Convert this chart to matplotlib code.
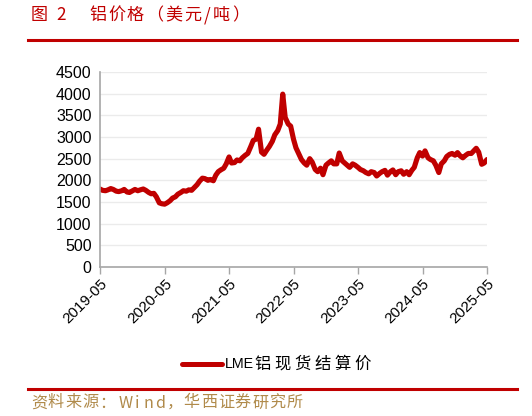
import matplotlib
matplotlib.use("Agg")
import matplotlib.pyplot as plt
import pandas as pd

plt.rcParams['font.family'] = ['Liberation Sans', 'Noto Sans CJK SC', 'DejaVu Sans']

title_parts = ["图", "2", "铝价格（美元/吨）"]
source_parts = ["资料来源：", "Wind", "，华西证券研究所"]
legend_parts = ["LME", "铝现货结算价"]
tick_labels = ["2019-05", "2020-05", "2021-05", "2022-05", "2023-05", "2024-05", "2025-05"]
y_ticks = [0, 500, 1000, 1500, 2000, 2500, 3000, 3500, 4000, 4500]

# semi-monthly values (1st, 15th) from 2019-05 to 2025-05-01
values = [
    1800, 1770, 1760, 1780, 1810, 1790, 1750, 1740, 1760, 1790, 1730, 1720,
    1760, 1790, 1760, 1780,
    1800, 1770, 1720, 1690, 1700, 1620, 1480, 1460, 1450, 1480, 1530, 1590,
    1620, 1680, 1720, 1760, 1750, 1780, 1770, 1830, 1900, 1980, 2050, 2040,
    2000, 2020, 1990, 2120, 2200, 2240, 2280, 2380, 2540, 2400, 2410, 2470,
    2450, 2520, 2580, 2620, 2780, 2920, 2950, 3180, 2650, 2600, 2700, 2780,
    2900, 3050, 3150, 3300, 3990, 3450, 3300, 3250, 2950, 2750, 2600, 2480,
    2400, 2350, 2500, 2420, 2250, 2200, 2280, 2130, 2350, 2400, 2450, 2380,
    2380, 2630, 2450, 2400, 2350, 2300, 2380, 2350, 2300, 2250, 2220, 2180,
    2150, 2200, 2180, 2100, 2160, 2200, 2230, 2120, 2200, 2240, 2130, 2200,
    2220, 2140, 2200, 2130, 2230, 2300, 2520, 2640, 2560, 2680, 2520, 2480,
    2450, 2350, 2180, 2380, 2450, 2550, 2600, 2620, 2580, 2640, 2560, 2520,
    2580, 2620, 2620, 2680, 2740, 2650, 2370, 2400, 2480,
]
dates = pd.date_range("2019-05-01", periods=len(values), freq="SMS")

W, H = 532, 416
fig = plt.figure(figsize=(W / 100, H / 100), dpi=100)
ax = fig.add_axes([100 / W, 1 - 267 / H, 387 / W, 195 / H])

red = "#C00000"
ax.plot(dates, values, color=red, lw=3.7, solid_capstyle='round', solid_joinstyle='round')

ax.set_ylim(0, 4500)
ax.set_yticks(y_ticks)
ax.set_yticklabels([str(v) for v in y_ticks], fontsize=11.5)
tick_dates = pd.to_datetime([t + "-01" for t in tick_labels])
ax.set_xlim(tick_dates[0], tick_dates[-1])
ax.set_xticks(tick_dates)
ax.set_xticklabels(tick_labels, rotation=45, ha='right', rotation_mode='anchor', fontsize=11)

ax.grid(axis='y', color='#EBEBEB', lw=1)
ax.set_axisbelow(True)
for s in ['top', 'right']:
    ax.spines[s].set_visible(False)
for s in ['left', 'bottom']:
    ax.spines[s].set_color('#A6A6A6')
    ax.spines[s].set_linewidth(1.2)
ax.tick_params(axis='y', length=0, pad=6)
ax.tick_params(axis='x', length=5, color='#A6A6A6', width=1, pad=2)


def place(text, x0, y, pitch_cjk, pitch_lat, **kw):
    """Place characters one by one (cell-based, letter-spaced layout)."""
    x = x0
    for ch in text:
        adv = pitch_lat if ord(ch) < 0x2E80 else pitch_cjk
        fig.text((x + adv / 2) / W, 1 - y / H, ch, ha='center', va='center', **kw)
        x += adv
    return x


cjk = ['Noto Sans CJK SC', 'DejaVu Sans']

# title
tkw = dict(color=red, fontsize=12.3, family=cjk)
place(title_parts[0], 29.5, 15, 19, 19, **tkw)
place(title_parts[1], 56, 15, 11, 11, **tkw)
place(title_parts[2], 88, 15, 19, 10, **tkw)
fig.add_artist(plt.Line2D([28 / W, 517 / W], [1 - 40 / H, 1 - 40 / H], color=red, lw=2.2))

# source
skw = dict(color="#B08A4A", fontsize=11.6, family=cjk)
fig.add_artist(plt.Line2D([28 / W, 517 / W], [1 - 389 / H, 1 - 389 / H], color=red, lw=2.2))
place(source_parts[0], 30.5, 403, 17, 17, **skw)
place(source_parts[1], 119.5, 403, 17, 11.7, **skw)
place(source_parts[2], 166, 403, 17.1, 11.7, **skw)

# legend
fig.add_artist(plt.Line2D([182 / W, 222 / W], [1 - 364 / H, 1 - 364 / H], color=red, lw=3.6,
                          solid_capstyle='round'))
fig.text(225 / W, 1 - 364 / H, legend_parts[0], color='black', fontsize=10.3, va='center',
         ha='left', family=['Liberation Sans'])
place(legend_parts[1], 252.5, 364, 20, 10, color='black', fontsize=11.8, family=cjk)

fig.savefig("out.png", dpi=100)
